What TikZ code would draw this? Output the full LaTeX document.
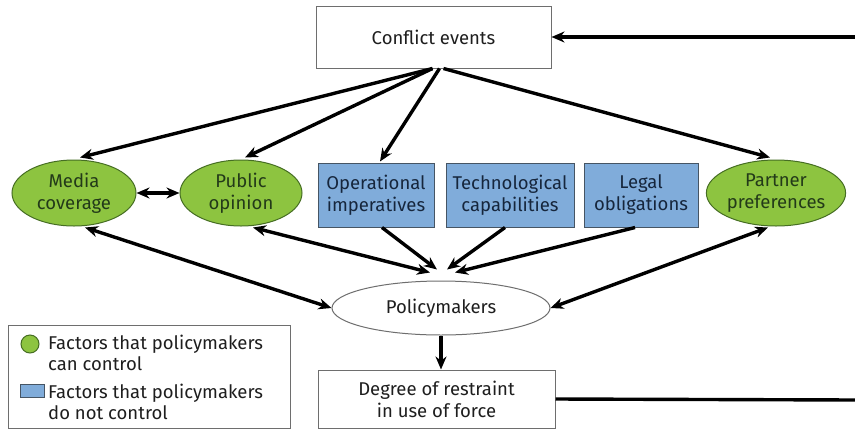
\documentclass[tikz,border=0pt]{standalone}
\usepackage{fontspec}
\setmainfont{Fira Sans}
\usetikzlibrary{arrows.meta,shapes.geometric,calc}
\definecolor{gfill}{RGB}{141,196,64}
\definecolor{gdraw}{RGB}{70,110,35}
\definecolor{gtext}{RGB}{35,58,25}
\definecolor{bfill}{RGB}{128,172,218}
\definecolor{bdraw}{RGB}{70,85,100}
\definecolor{btext}{RGB}{22,38,60}
\definecolor{boxgray}{RGB}{110,110,110}
\definecolor{txt}{RGB}{30,30,30}
\tikzset{
  lbl/.style={font=\fontsize{18.5}{22}\selectfont, align=center, inner sep=0pt},
  whitebox/.style={lbl, draw=boxgray, line width=1pt, fill=white, text=txt},
  greenell/.style={lbl, ellipse, draw=gdraw, line width=1pt, fill=gfill, text=gtext, minimum height=66pt},
  bluebox/.style={lbl, rectangle, draw=bdraw, line width=1pt, fill=bfill, text=btext, minimum height=64pt},
  conn/.style={line width=3.4pt, black, line cap=butt},
  tip/.style={-{Stealth[length=13pt,width=11pt]}},
  tips/.style={{Stealth[length=13pt,width=11pt]}-{Stealth[length=13pt,width=11pt]}},
  legtext/.style={font=\fontsize{18.5}{21}\selectfont, align=left, inner sep=0pt, text=txt, anchor=north west}
}
\begin{document}
\begin{tikzpicture}[x=1pt,y=-1pt]
\useasboundingbox (0,0) rectangle (855,432);
\fill[white] (0,0) rectangle (855,432);
% nodes
\node[whitebox, minimum width=235pt, minimum height=62pt] (ce) at (433.5,37) {Conflict events};
\node[greenell, minimum width=124pt] (media) at (74,193) {Media\\coverage};
\node[greenell, minimum width=122pt] (public) at (241,193) {Public\\opinion};
\node[bluebox, minimum width=116pt] (oper) at (376,195) {Operational\\imperatives};
\node[bluebox, minimum width=128pt] (tech) at (510,195) {Technological\\capabilities};
\node[bluebox, minimum width=114pt] (legal) at (641,195) {Legal\\obligations};
\node[greenell, minimum width=130pt] (partner) at (776,193) {Partner\\preferences};
\node[lbl, ellipse, draw=boxgray, line width=1pt, fill=white, text=txt, minimum width=218pt, minimum height=54pt] (pm) at (441,308) {Policymakers};
\node[whitebox, minimum width=237pt, minimum height=58pt] (deg) at (436.5,399) {Degree of restraint\\in use of force};
% legend
\node[draw=boxgray, line width=1pt, fill=white, minimum width=282pt, minimum height=103pt, inner sep=0pt] (legend) at (149,376.5) {};
\node[circle, draw=gdraw, line width=1pt, fill=gfill, minimum size=18pt, inner sep=0pt] (lgc) at (30,344) {};
\node[rectangle, draw=bdraw, line width=1pt, fill=bfill, minimum width=24pt, minimum height=13pt, inner sep=0pt] (lgb) at (32,390.5) {};
\node[legtext] (lt1) at (48,335) {Factors that policymakers\\can control};
\node[legtext] (lt2) at (48,384) {Factors that policymakers\\do not control};
% coordinates
\coordinate (cs1) at ($(ce.south)+(-1,0)$);
\coordinate (cs2) at ($(ce.south)+(6,0)$);
\coordinate (cs3) at ($(ce.south)+(10,0)$);
\coordinate (m1) at ($(pm.north)+(-11,-8)$);
\coordinate (m2) at ($(pm.north)+(-4,-11)$);
\coordinate (m3) at ($(pm.north)+(6,-11)$);
\coordinate (m4) at ($(pm.north)+(14,-8)$);
\coordinate (rtop) at (856,37);
\coordinate (rbot) at (856,400);
% connectors from conflict events
\draw[conn, tip] (cs1) -- ($(media.north)+(6,-2)$);
\draw[conn, tip] (cs1) -- ($(public.north)+(4,-2)$);
\draw[conn, tip] (cs2) -- ($(oper.north)+(4,-1)$);
\draw[conn, tip] (cs3) -- ($(partner.north)+(-6,-2)$);
% media <-> public
\draw[conn, tips] (media.east) -- (public.west);
% to policymakers
\draw[conn, tips] ($(public.south)+(12,1)$) -- (m1);
\draw[conn, tip] ($(oper.south)+(6,0)$) -- (m2);
\draw[conn, tip] ($(tech.south)+(-5,0)$) -- (m3);
\draw[conn, tip] ($(legal.south)+(-6,0)$) -- (m4);
\draw[conn, tips] ($(media.south)+(11,1)$) -- (pm.west);
\draw[conn, tips] ($(partner.south)+(-8,1)$) -- (pm.east);
% policymakers -> degree
\draw[conn, tip] (pm.south) -- (pm.south |- deg.north);
% feedback loop
\draw[conn] (deg.east) -- (rbot);
\draw[conn, tip] (rtop) -- (ce.east);
\end{tikzpicture}
\end{document}
